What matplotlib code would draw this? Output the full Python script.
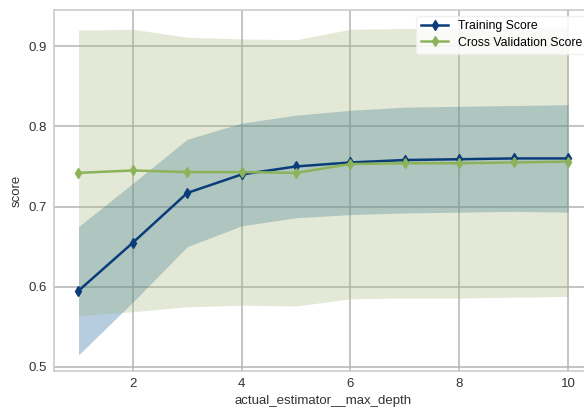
import numpy as np
import matplotlib.pyplot as plt

# Datos
max_depth = [1, 2, 3, 4, 5, 6, 7, 8, 9, 10]
train_mean = [0.595, 0.655, 0.717, 0.740, 0.750, 0.755, 0.758, 0.759, 0.760, 0.760]
train_std = [0.080, 0.074, 0.067, 0.064, 0.064, 0.065, 0.066, 0.066, 0.066, 0.067]
cv_mean = [0.742, 0.745, 0.743, 0.743, 0.742, 0.753, 0.754, 0.754, 0.755, 0.756]
cv_std = [0.178, 0.176, 0.168, 0.166, 0.166, 0.168, 0.168, 0.168, 0.168, 0.168]

plt.rcParams['font.family'] = ['Liberation Sans', 'DejaVu Sans']

fig = plt.figure(figsize=(5.84, 4.13), dpi=100)
ax = fig.add_axes([0.0925, 0.1017, 0.922, 0.874])

x = np.array(max_depth)
tm = np.array(train_mean)
ts = np.array(train_std)
cm = np.array(cv_mean)
cs = np.array(cv_std)

# Bandas de desviacion
ax.fill_between(x, tm - ts, tm + ts, color='#0a5a96', alpha=0.3, linewidth=0)
ax.fill_between(x, cm - cs, cm + cs, color='#a3b87a', alpha=0.3, linewidth=0)

# Lineas
ax.plot(x, tm, color='#0b3c7a', marker='d', markersize=5.5, linewidth=1.8, label='Training Score')
ax.plot(x, cm, color='#8cb35a', marker='d', markersize=5.5, linewidth=1.8, label='Cross Validation Score')

ax.set_xlim(0.55, 10.45)
ax.set_ylim(0.495, 0.945)
ax.set_xticks([2, 4, 6, 8, 10])
ax.set_yticks([0.5, 0.6, 0.7, 0.8, 0.9])
ax.tick_params(length=0, labelsize=9.5, colors='#333333', pad=5)
ax.grid(True, color='#b4b4b4', linewidth=1.1)
ax.set_axisbelow(True)
for s in ax.spines.values():
    s.set_color('#c8c8c8')
    s.set_linewidth(1.1)

ax.set_xlabel('actual_estimator__max_depth', fontsize=9.5, color='#333333', labelpad=4)
ax.set_ylabel('score', fontsize=9.5, color='#333333')

leg = ax.legend(loc='upper right', bbox_to_anchor=(0.997, 0.995), borderaxespad=0.3, fontsize=8.8,
                frameon=True, handlelength=2.2, borderpad=0.4, labelspacing=0.35)
leg.get_frame().set_facecolor('white')
leg.get_frame().set_edgecolor('#eeeeee')
leg.get_frame().set_alpha(0.85)

fig.savefig('out.png', dpi=100)
